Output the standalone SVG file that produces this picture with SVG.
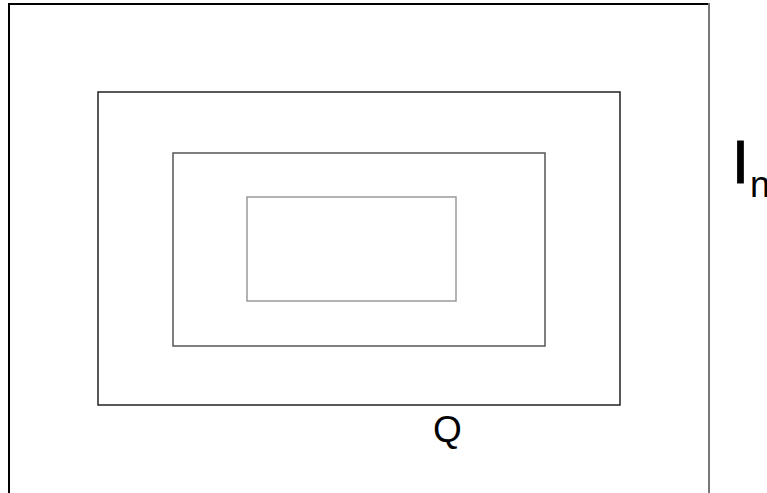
<svg xmlns="http://www.w3.org/2000/svg" width="767" height="493" viewBox="0 0 767 493">
<style>
.f{fill:none}
text{font-family:"Liberation Sans",Arial,sans-serif;fill:#000}
</style>
<rect x="0" y="0" width="767" height="493" fill="#fff"/>
<g id="frame">
<path class="f" d="M9 500 V4 H709" stroke="#000" stroke-width="2"/>
<path class="f" d="M709 3 V500" stroke="#777" stroke-width="2"/>
</g>
<g id="rect-outer"><rect class="f" x="98" y="92" width="522" height="313" stroke="#222" stroke-width="1.5"/></g>
<g id="rect-middle"><rect class="f" x="173" y="153" width="372" height="193" stroke="#555" stroke-width="1.5"/></g>
<g id="rect-inner"><rect class="f" x="247" y="197" width="209" height="104" stroke="#999" stroke-width="1.5"/></g>
<g id="label-Q"><text x="433" y="442" font-size="37">Q</text></g>
<g id="label-In"><text x="732" y="183" font-size="61" stroke="#000" stroke-width="1">I</text><text x="750" y="197" font-size="36">n</text></g>
</svg>
